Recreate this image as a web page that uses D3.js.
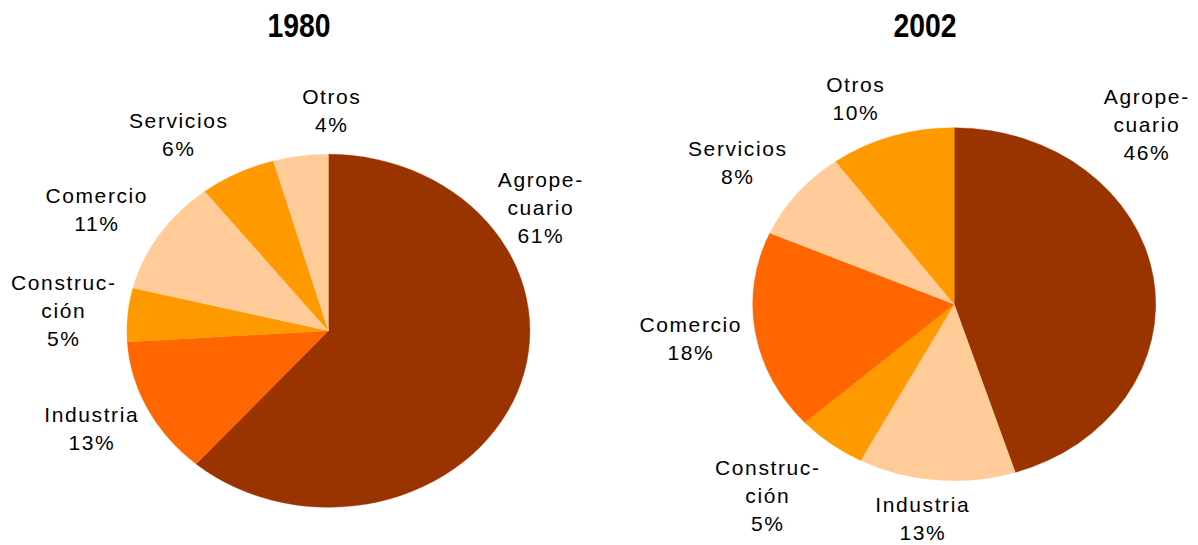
<!DOCTYPE html>
<html>
<head>
<meta charset="utf-8">
<script src="https://cdn.jsdelivr.net/npm/d3@7"></script>
<style>
  html, body { margin: 0; padding: 0; background: #fff; }
  svg { display: block; }
</style>
</head>
<body>
<svg id="chart" width="1198" height="545"></svg>
<script>
// ---- data ----
const categories = ["Agropecuario", "Industria", "Construcción", "Comercio", "Servicios", "Otros"];
const labelLines = [["Agrope-", "cuario"], ["Industria"], ["Construc-", "ción"], ["Comercio"], ["Servicios"], ["Otros"]];
const years = ["1980", "2002"];
const values1980 = [61.4, 12.6, 4.9, 10.6, 6.1, 4.4];
const values2002 = [45.1, 12.6, 5.6, 18.3, 8.4, 10.0];
// percentages printed in the data labels
const pctLabels1980 = ["61%", "13%", "5%", "11%", "6%", "4%"];
const pctLabels2002 = ["46%", "13%", "5%", "18%", "8%", "10%"];
const colors1980 = ["#993300", "#FF6600", "#FF9900", "#FFCC99", "#FF9900", "#FFCC99"];
const colors2002 = ["#993300", "#FFCC99", "#FF9900", "#FF6600", "#FFCC99", "#FF9900"];

// ---- layout (not data) ----
const pies = [
  { year: years[0], values: values1980, pct: pctLabels1980, colors: colors1980, cx: 328.4, cy: 330.8, titleX: 299,
    labels: [[540, 187], [91, 422], [63, 290], [96, 203], [178, 128], [331, 104]] },
  { year: years[1], values: values2002, pct: pctLabels2002, colors: colors2002, cx: 954.2, cy: 304.2, titleX: 925,
    labels: [[1146, 104], [922, 512], [767, 475], [690, 332], [737, 156], [855, 92]] }
];
const rx = 201.5, ry = 176.5, R = 100;
const lineH = 27.8;

const svg = d3.select("#chart");
const pie = d3.pie().sort(null).value(d => d);
const arc = d3.arc().innerRadius(0).outerRadius(R);

pies.forEach(p => {
  svg.append("text")
    .attr("x", p.titleX).attr("y", 37)
    .attr("text-anchor", "middle")
    .attr("font-family", "Liberation Sans, Arial, sans-serif")
    .attr("font-weight", "bold")
    .attr("font-size", 34)
    .attr("textLength", 63)
    .attr("lengthAdjust", "spacingAndGlyphs")
    .attr("fill", "#000")
    .text(p.year);

  const g = svg.append("g")
    .attr("transform", `translate(${p.cx},${p.cy}) scale(${rx / R},${ry / R})`);
  g.selectAll("path")
    .data(pie(p.values))
    .join("path")
    .attr("d", arc)
    .attr("fill", (d, i) => p.colors[i])
    .attr("stroke", (d, i) => p.colors[i])
    .attr("stroke-width", 0.2);

  p.values.forEach((v, i) => {
    const lines = labelLines[i].concat([p.pct[i]]);
    const [lx, ly] = p.labels[i];
    const t = svg.append("text")
      .attr("font-family", "Liberation Sans, Arial, sans-serif")
      .attr("font-size", 21)
      .attr("letter-spacing", "1.6px")
      .attr("fill", "#000")
      .attr("text-anchor", "middle");
    lines.forEach((s, k) => {
      t.append("tspan").attr("x", lx + 0.8).attr("y", ly + k * lineH).text(s);
    });
  });
});
</script>
</body>
</html>
